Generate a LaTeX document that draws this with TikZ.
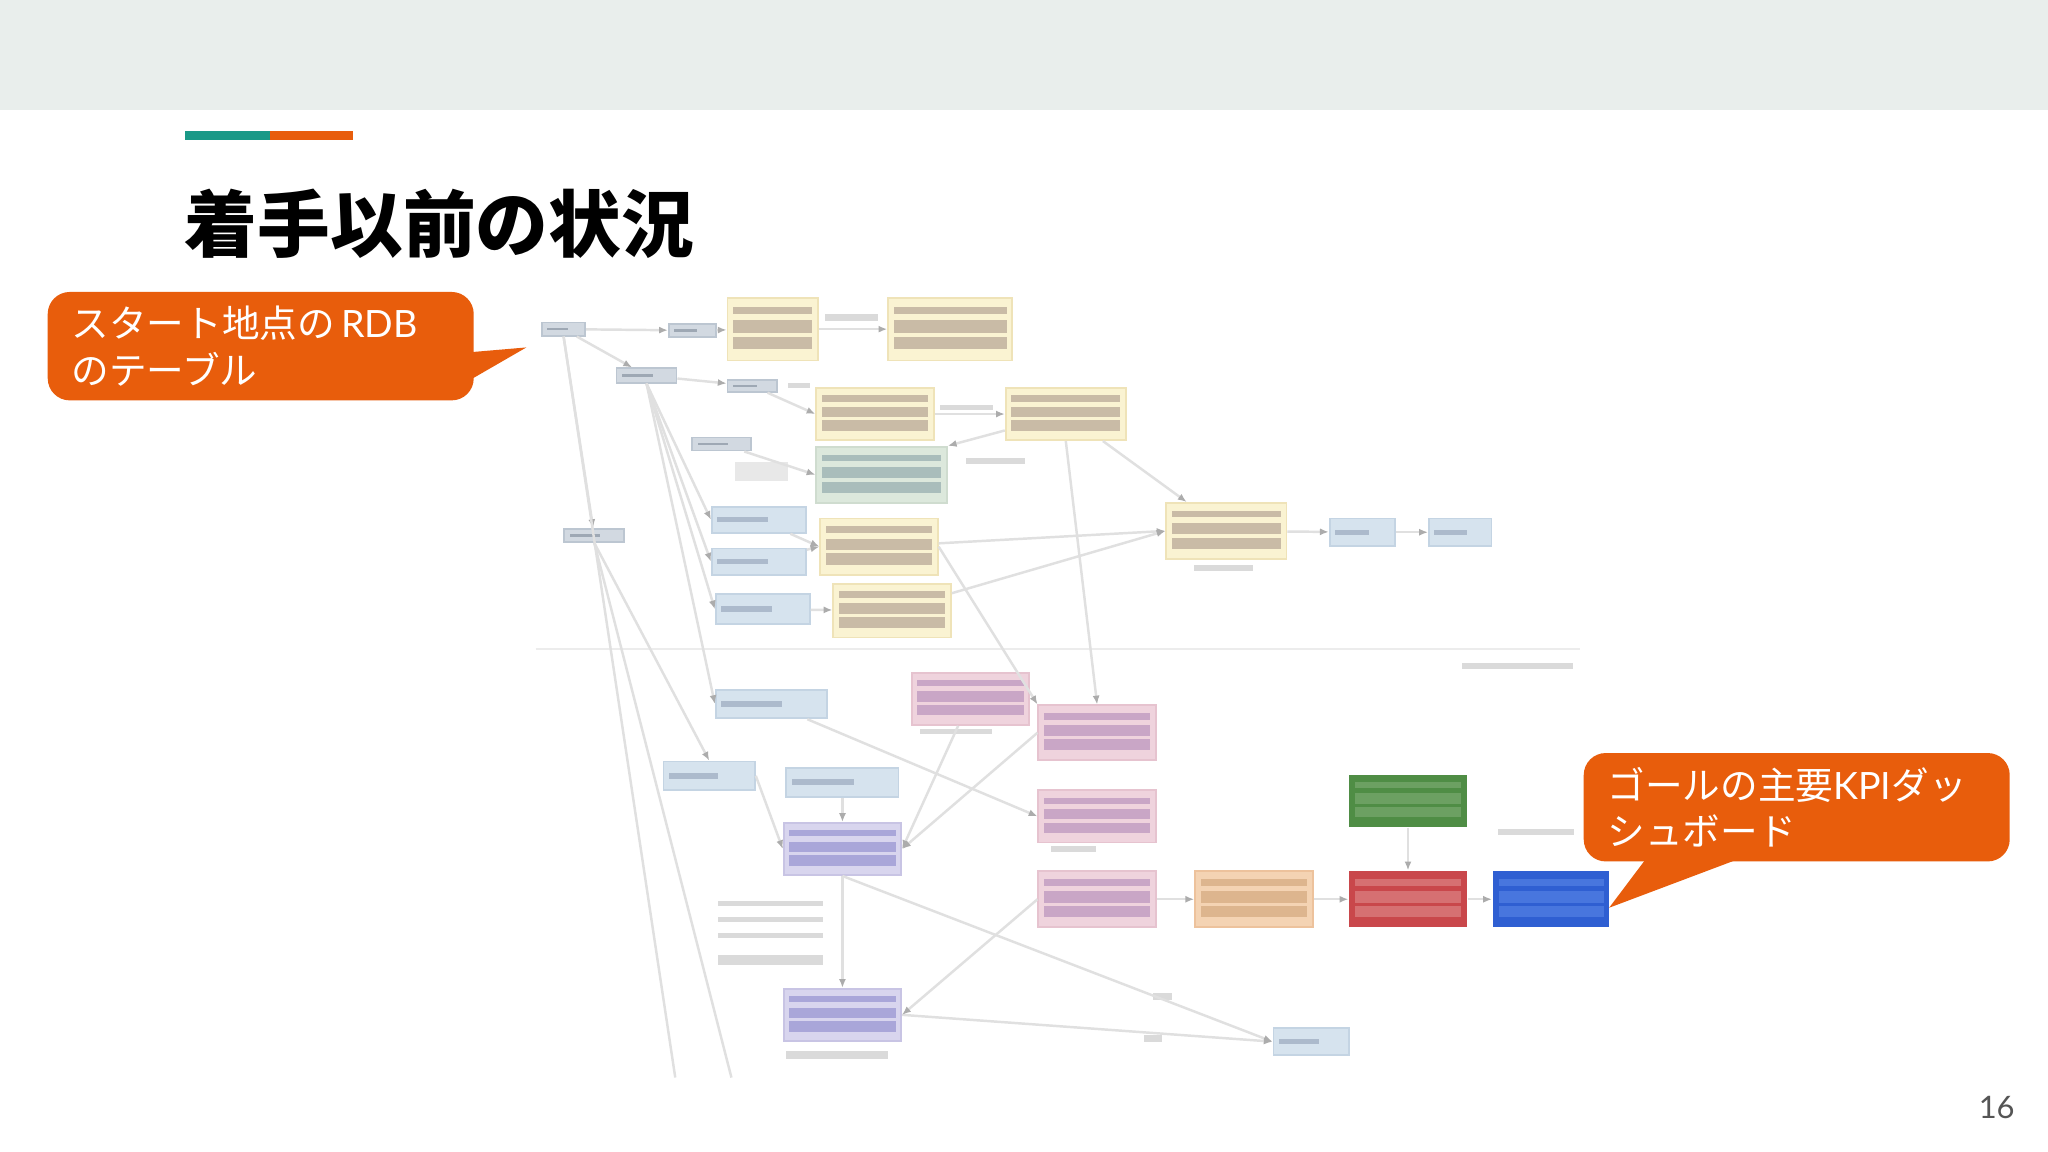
\documentclass[tikz,border=0pt]{standalone}
\usepackage{fontspec}
\setmainfont{Lato}
\newfontfamily\jp{Noto Sans CJK JP}
\usetikzlibrary{arrows.meta,calc}

\definecolor{bandgray}{HTML}{E9EEEC}
\definecolor{accteal}{HTML}{1A9987}
\definecolor{accorange}{HTML}{E85D0C}
\definecolor{numgray}{HTML}{555555}
\definecolor{linegray}{HTML}{E0E0E0}
\definecolor{tipgray}{HTML}{ACACAC}
\definecolor{smudgegray}{HTML}{DADADA}
\definecolor{seplinegray}{HTML}{ECECEC}
\definecolor{tblfill}{HTML}{D2D9E1}
\definecolor{tbldraw}{HTML}{BCC6D1}
\definecolor{tblbar}{HTML}{9EA8B4}
\definecolor{entfill}{HTML}{D6E3EE}
\definecolor{entdraw}{HTML}{C4D4E3}
\definecolor{entbar}{HTML}{ACBACC}
\definecolor{yelfill}{HTML}{FAF3D2}
\definecolor{yeldraw}{HTML}{EFE3B8}
\definecolor{yelbar}{HTML}{C9BBA6}
\definecolor{sagefill}{HTML}{DCE8DC}
\definecolor{sagedraw}{HTML}{CFDCCF}
\definecolor{sagebar}{HTML}{A9BDBB}
\definecolor{pnkfill}{HTML}{EFD3DD}
\definecolor{pnkdraw}{HTML}{E6C3CF}
\definecolor{pnkbar}{HTML}{C9A6C6}
\definecolor{lavfill}{HTML}{D8D5EE}
\definecolor{lavdraw}{HTML}{C8C4E4}
\definecolor{lavbar}{HTML}{A9A6D9}
\definecolor{peachfill}{HTML}{F4D3B3}
\definecolor{peachdraw}{HTML}{EDC29C}
\definecolor{peachbar}{HTML}{DDB58E}
\definecolor{kgreenfill}{HTML}{4F8D45}
\definecolor{kgreenbar}{HTML}{6CA062}
\definecolor{kredfill}{HTML}{C9474B}
\definecolor{kredbar}{HTML}{D67072}
\definecolor{kbluefill}{HTML}{2F5FD2}
\definecolor{kbluebar}{HTML}{4876DE}
\definecolor{notegray}{HTML}{E8E8E8}

\tikzset{
  wh/.style 2 args={minimum width=#1*0.013061cm, minimum height=#2*0.013061cm},
  blk/.style={rectangle, inner sep=0pt, line width=0.5pt},
  bars/.style={path picture={
      \foreach \a/\b in {0.14/0.26,0.36/0.56,0.62/0.82}
        \fill[#1] ($(path picture bounding box.north west)!\a!(path picture bounding box.south west)+(1.6pt,0)$)
          rectangle ($(path picture bounding box.north east)!\b!(path picture bounding box.south east)+(-1.6pt,0)$);}},
  stub/.style={path picture={
      \fill[#1] ($(path picture bounding box.north west)!0.4!(path picture bounding box.south west)+(1.5pt,0)$)
        rectangle ($(path picture bounding box.north west)!0.6!(path picture bounding box.south east)$);}},
  tbl/.style={blk, fill=tblfill, draw=tbldraw, stub=tblbar},
  ent/.style={blk, fill=entfill, draw=entdraw, stub=entbar},
  yel/.style={blk, fill=yelfill, draw=yeldraw, bars=yelbar},
  sage/.style={blk, fill=sagefill, draw=sagedraw, bars=sagebar},
  pnk/.style={blk, fill=pnkfill, draw=pnkdraw, bars=pnkbar},
  lav/.style={blk, fill=lavfill, draw=lavdraw, bars=lavbar},
  peach/.style={blk, fill=peachfill, draw=peachdraw, bars=peachbar},
  kpigreen/.style={blk, fill=kgreenfill, bars=kgreenbar},
  kpired/.style={blk, fill=kredfill, bars=kredbar},
  kpiblue/.style={blk, fill=kbluefill, bars=kbluebar},
  smudge/.style={blk, fill=smudgegray},
  conn/.style={draw=linegray, line width=0.7pt},
  arr/.style={conn, -{Latex[length=2.5pt,width=2pt,color=tipgray]}},
  callout/.style={rectangle, rounded corners=2.2mm, fill=accorange, text=white, align=left,
    inner xsep=0.24cm, inner ysep=0pt, text width=3.78cm,
    font=\fontsize{10.7}{13.3}\selectfont}
}

\begin{document}
\begin{tikzpicture}[x=0.013061cm, y=-0.013061cm]
  \useasboundingbox (0,0) rectangle (1568,882);
  \fill[white] (0,0) rectangle (1568,882);
  \fill[bandgray] (0,0) rectangle (1568,84);
  \fill[accteal] (142,100) rectangle (207,107);
  \fill[accorange] (207,100) rectangle (270,107);
  \node[anchor=west, inner sep=0pt, font=\fontsize{20.7}{24}\selectfont] (title) at (141,171) {\jp\bfseries 着手以前の状況};

  \draw[draw=seplinegray, line width=0.6pt] (410,497) -- (1210,497);

  \node[tbl, wh={33}{10}] (n1) at (431.5,252) {};
  \node[tbl, wh={36}{10}] (n2) at (530,253) {};
  \node[tbl, wh={46}{11}] (n3) at (495,287.5) {};
  \node[tbl, wh={38}{9}] (n4) at (576,295.5) {};
  \node[tbl, wh={45}{10}] (n5) at (552.5,340) {};
  \node[tbl, wh={46}{10}] (n6) at (455,410) {};

  \node[yel, wh={69}{48}] (y1) at (591.5,252) {};
  \node[yel, wh={95}{48}] (y2) at (727.5,252) {};
  \node[yel, wh={90}{40}] (y3) at (670,317) {};
  \node[yel, wh={92}{40}] (y4) at (816,317) {};
  \node[yel, wh={90}{43}] (y5) at (673,418.5) {};
  \node[yel, wh={90}{41}] (y6) at (683,467.5) {};
  \node[yel, wh={92}{43}] (y7) at (939,406.5) {};
  \node[sage, wh={100}{43}] (g1) at (675,363.5) {};

  \node[ent, wh={72}{20}] (b1) at (581,398) {};
  \node[ent, wh={72}{20}] (b2) at (581,430) {};
  \node[ent, wh={72}{23}] (b3) at (584,466.5) {};
  \node[ent, wh={50}{21}] (b4) at (1043,407.5) {};
  \node[ent, wh={48}{21}] (b5) at (1118,407.5) {};
  \node[ent, wh={85}{22}] (b6) at (590.5,539) {};
  \node[ent, wh={70}{22}] (b7) at (543,594) {};
  \node[ent, wh={86}{22}] (b8) at (645,599) {};
  \node[ent, wh={58}{21}] (b9) at (1004,797.5) {};

  \node[pnk, wh={90}{40}] (p1) at (743,535) {};
  \node[pnk, wh={90}{42}] (p2) at (840,561) {};
  \node[pnk, wh={90}{40}] (p3) at (840,625) {};
  \node[pnk, wh={90}{43}] (p4) at (840,688.5) {};
  \node[lav, wh={90}{40}] (v1) at (645,650) {};
  \node[lav, wh={90}{40}] (v2) at (645,777) {};

  \node[peach, wh={90}{43}] (o1) at (960,688.5) {};
  \node[kpigreen, wh={90}{40}] (g2) at (1078,613) {};
  \node[kpired, wh={90}{43}] (r1) at (1078,688.5) {};
  \node[kpiblue, wh={89}{43}] (dash) at (1187.5,688.5) {};

  \node[smudge, wh={40}{5}] (s1) at (652,243) {};
  \node[smudge, wh={17}{4}] (s2) at (612,295) {};
  \node[smudge, wh={40}{4}] (s3) at (740,312) {};
  \node[smudge, wh={40}{14}, fill=notegray] (s4) at (583,361) {};
  \node[smudge, wh={45}{5}] (s5) at (762,353) {};
  \node[smudge, wh={45}{5}] (s6) at (937,435) {};
  \node[smudge, wh={85}{5}] (s7) at (1162,510) {};
  \node[smudge, wh={55}{4}] (s8) at (732,560) {};
  \node[smudge, wh={35}{4}] (s9) at (822,650) {};
  \node[smudge, wh={80}{4}] (s10) at (590,692) {};
  \node[smudge, wh={80}{4}] (s11) at (590,704) {};
  \node[smudge, wh={80}{4}] (s12) at (590,716) {};
  \node[smudge, wh={80}{7}] (s13) at (590,735) {};
  \node[smudge, wh={78}{6}] (s14) at (641,808) {};
  \node[smudge, wh={58}{5}] (s15) at (1176,637) {};
  \node[smudge, wh={14}{5}] (s16) at (890,763) {};
  \node[smudge, wh={14}{5}] (s17) at (883,795) {};

  \coordinate (cutA) at (517,825);
  \coordinate (cutB) at (560,825);

  \draw[arr] (n1) -- (n2);
  \draw[arr] (n2) -- (y1);
  \draw[arr] (y1) -- (y2);
  \draw[arr] (n1) -- (n3);
  \draw[arr] (n3) -- (n4);
  \draw[arr] (n4) -- (y3.west);
  \draw[arr] (y3) -- (y4);
  \draw[arr] (n5) -- (g1.west);
  \draw[arr] (y4) -- (g1.north east);
  \draw[arr] (y4.south) -- (p2.north);
  \draw[arr] (y4) -- (y7);
  \draw[arr] (y5) -- (y7.west);
  \draw[arr] (y6) -- (y7.west);
  \draw[arr] (y7) -- (b4);
  \draw[arr] (b4) -- (b5);
  \draw[arr] (y5.east) -- (p2.north west);
  \draw[arr] (b1) -- (y5.west);
  \draw[arr] (b2) -- (y5.west);
  \draw[arr] (b3) -- (y6);
  \draw[arr] (n3.south) -- (b1.west);
  \draw[arr] (n3.south) -- (b2.west);
  \draw[arr] (n3.south) -- (b3.west);
  \draw[arr] (n3.south) -- (b6.west);
  \draw[arr] (n1.south) -- (n6);
  \draw[conn] (n1.south) -- (cutA);
  \draw[conn] (n6.south) -- (cutB);
  \draw[arr] (n6.south) -- (b7.north);
  \draw[arr] (b6) -- (p3.west);
  \draw[arr] (p1) -- (v1.east);
  \draw[arr] (p2.west) -- (v1.east);
  \draw[arr] (b8) -- (v1);
  \draw[arr] (b7.east) -- (v1.west);
  \draw[arr] (v1) -- (v2);
  \draw[arr] (v1.south) -- (b9.west);
  \draw[arr] (v2.east) -- (b9.west);
  \draw[arr] (p4.west) -- (v2.east);
  \draw[arr] (p4) -- (o1);
  \draw[arr] (o1) -- (r1);
  \draw[arr] (r1) -- (dash);
  \draw[arr] (g2) -- (r1);

  \node[callout, anchor=north west, wh={326}{83}] (startcall) at (36,223)
    {{\jp スタート地点の}\,RDB\\{\jp のテーブル}};
  \coordinate (starttip) at (403,266);
  \fill[accorange] ($(startcall.north east)!0.56!(startcall.south east)+(-3pt,0)$) -- (starttip)
    -- ($(startcall.north east)!0.84!(startcall.south east)+(-3pt,0)$) -- cycle;

  \node[callout, anchor=north west, wh={326}{83}] (goalcall) at (1212,576)
    {{\jp ゴールの主要}KPI{\jp ダッ}\\{\jp シュボード}};
  \coordinate (goaltip) at (1232,695);
  \fill[accorange] ($(goalcall.south west)!0.16!(goalcall.south east)+(0,3pt)$) -- (goaltip)
    -- ($(goalcall.south west)!0.41!(goalcall.south east)+(0,3pt)$) -- cycle;

  \node[anchor=east, inner sep=0pt, text=numgray, font=\fontsize{8.8}{10}\selectfont] (pageno) at (1543,848) {16};
\end{tikzpicture}
\end{document}
